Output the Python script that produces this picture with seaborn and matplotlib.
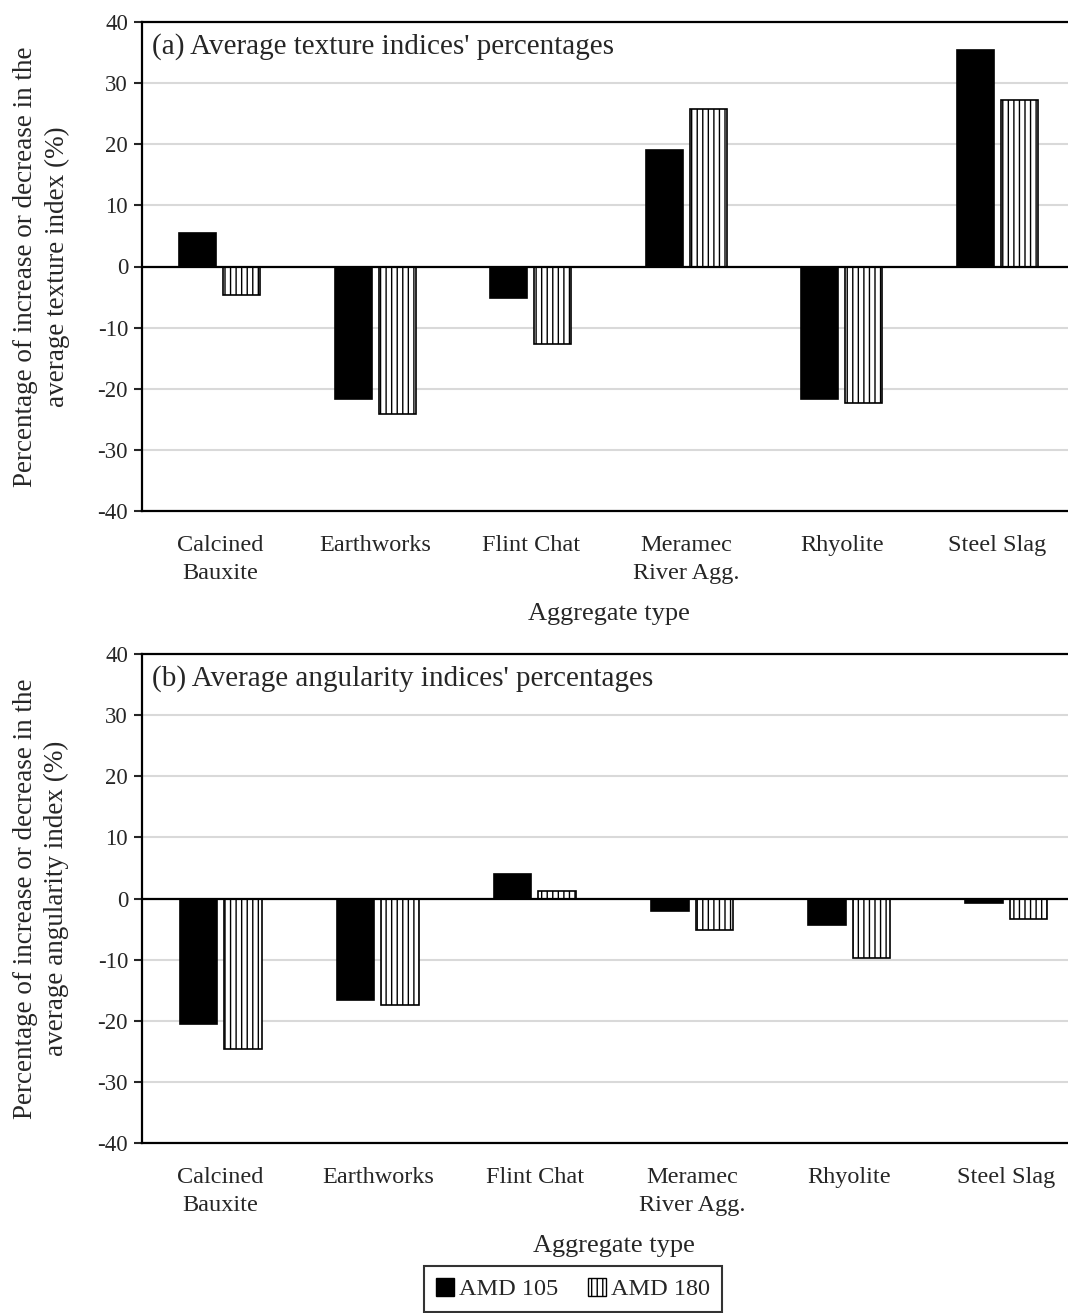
import numpy as np
import pandas as pd
import matplotlib
matplotlib.use("Agg")
import matplotlib.pyplot as plt
import seaborn as sns
from matplotlib.patches import Patch

sns.set_theme(style="white")
plt.rcParams['font.family'] = ['Liberation Serif', 'DejaVu Serif']
plt.rcParams['axes.unicode_minus'] = False
plt.rcParams['hatch.linewidth'] = 1.0

categories = ["Calcined\nBauxite", "Earthworks", "Flint Chat", "Meramec\nRiver Agg.", "Rhyolite", "Steel Slag"]
series_names = ["AMD 105", "AMD 180"]
texture_amd105 = [5.4, -21.6, -5.2, 19.0, -21.6, 35.5]
texture_amd180 = [-4.6, -24.2, -12.6, 25.8, -22.3, 27.2]
angularity_amd105 = [-20.5, -16.6, 4.0, -2.0, -4.3, -0.7]
angularity_amd180 = [-24.6, -17.5, 1.2, -5.1, -9.7, -3.4]
yticks = [-40, -30, -20, -10, 0, 10, 20, 30, 40]

def long_df(a, b):
    return pd.DataFrame({
        "cat": categories * 2,
        "series": [series_names[0]] * len(categories) + [series_names[1]] * len(categories),
        "val": list(a) + list(b),
    })

fig = plt.figure(figsize=(10.68, 13.13), dpi=100)
W, H = 1068, 1313
ax_a = fig.add_axes([142 / W, 1 - 511 / H, (1075 - 142) / W, (511 - 22) / H])
ax_b = fig.add_axes([142 / W, 1 - 1143 / H, (1085 - 142) / W, (1143 - 654) / H])

panels = [
    (ax_a, long_df(texture_amd105, texture_amd180), "(a) Average texture indices' percentages",
     "Percentage of increase or decrease in the\naverage texture index (%)"),
    (ax_b, long_df(angularity_amd105, angularity_amd180), "(b) Average angularity indices' percentages",
     "Percentage of increase or decrease in the\naverage angularity index (%)"),
]

for ax, df, title, ylab in panels:
    ax.set_axisbelow(True)
    sns.barplot(data=df, x="cat", y="val", hue="series", hue_order=series_names,
                palette=["black", "white"], width=0.566, gap=0.16,
                edgecolor="black", linewidth=1.2, ax=ax, legend=False)
    for bar in ax.containers[1]:
        bar.set_hatch("|||")
    ax.set_ylim(-40, 40)
    ax.set_yticks(yticks)
    ax.set_yticklabels([str(t) for t in yticks], fontsize=16.5)
    ax.yaxis.grid(True, color="#d9d9d9", linewidth=1.5)
    ax.xaxis.grid(False)
    ax.axhline(0, color="black", linewidth=1.6, zorder=3)
    ax.set_xlim(-0.5, len(categories) - 0.5)
    ax.tick_params(axis="y", which="both", left=True, direction="out", length=6, width=1.5, pad=4)
    ax.tick_params(axis="x", bottom=False, labelsize=17.5, pad=11)
    for lbl in ax.get_xticklabels():
        lbl.set_linespacing(1.45)
    for sp in ax.spines.values():
        sp.set_color("black")
        sp.set_linewidth(1.6)
    ax.set_xlabel("Aggregate type", fontsize=19, labelpad=14)
    ax.set_ylabel(ylab, fontsize=19.5, linespacing=1.35)
    ax.yaxis.set_label_coords(-0.077, 0.5)
    ax.text(0.011, 0.978, title, transform=ax.transAxes, ha="left", va="top", fontsize=21)

handles = [Patch(facecolor="black", edgecolor="black", label=series_names[0]),
           Patch(facecolor="white", edgecolor="black", hatch="|||", label=series_names[1])]
leg = fig.legend(handles=handles, loc="center", bbox_to_anchor=(573 / W, 1 - 1289 / H), ncol=2,
                 fontsize=17.5, frameon=True, fancybox=False, edgecolor="black",
                 handlelength=0.75, handleheight=0.75, handletextpad=0.2, columnspacing=1.2,
                 borderpad=0.5, borderaxespad=0)
leg.get_frame().set_linewidth(1.5)

fig.savefig("out.png", dpi=100, facecolor="white")
